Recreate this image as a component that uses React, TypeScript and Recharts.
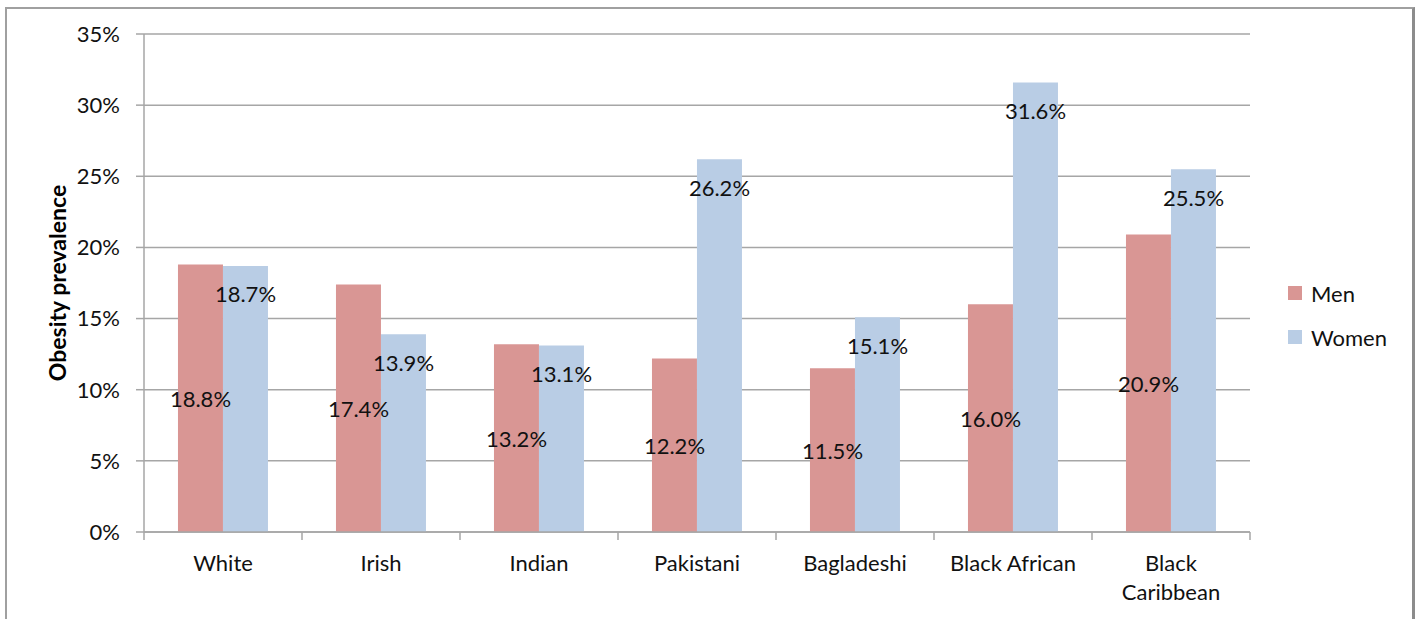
import React from 'react';
import { BarChart, Bar, XAxis, YAxis, CartesianGrid, Legend, LabelList } from 'recharts';

const categories = ['White', 'Irish', 'Indian', 'Pakistani', 'Bagladeshi', 'Black African', 'Black Caribbean'];
const menValues = [18.8, 17.4, 13.2, 12.2, 11.5, 16.0, 20.9];
const womenValues = [18.7, 13.9, 13.1, 26.2, 15.1, 31.6, 25.5];
const yTicks = [0, 5, 10, 15, 20, 25, 30, 35];
const seriesNames = ['Men', 'Women'];

const MEN_COLOR = '#D99694';
const WOMEN_COLOR = '#B9CDE5';
const GRID = '#a6a6a6';
const FONT = 'Lato, "Open Sans", sans-serif';
const FS = 22;

const data = categories.map((name, i) => ({ name, men: menValues[i], women: womenValues[i] }));

const fmt = (v: number) => `${v.toFixed(1)}%`;

// men labels sit in the middle of the bar
const MenLabel = (props: any) => {
  const { x, y, width, height, value } = props;
  return (
    <text x={x + width / 2} y={y + height / 2} textAnchor="middle" dominantBaseline="central"
      fontFamily={FONT} fontSize={FS} fill="#111">
      {fmt(value)}
    </text>
  );
};

// women labels sit just under the top of the bar
const WomenLabel = (props: any) => {
  const { x, y, width, value } = props;
  return (
    <text x={x + width / 2} y={y + 28} textAnchor="middle" dominantBaseline="central"
      fontFamily={FONT} fontSize={FS} fill="#111">
      {fmt(value)}
    </text>
  );
};

const CategoryTick = (props: any) => {
  const { x, y, payload, index } = props;
  const half = payload.offset || 79;
  const label: string = payload.value;
  const lines = label.length > 13 ? label.split(' ') : [label];
  return (
    <g>
      <line x1={x - half} x2={x - half} y1={y} y2={y + 8} stroke={GRID} strokeWidth={1.5} />
      {index === categories.length - 1 && (
        <line x1={x + half} x2={x + half} y1={y} y2={y + 8} stroke={GRID} strokeWidth={1.5} />
      )}
      {lines.map((l, i) => (
        <text key={i} x={x} y={y + 39 + i * 29} textAnchor="middle" fontFamily={FONT} fontSize={FS} fill="#111">
          {l}
        </text>
      ))}
    </g>
  );
};

const LegendContent = () => (
  <div style={{ fontFamily: FONT, fontSize: FS, color: '#111' }}>
    {seriesNames.map((n, i) => (
      <div key={n} style={{ display: 'flex', alignItems: 'center', height: 44 }}>
        <span style={{ display: 'inline-block', width: 14, height: 14, background: i === 0 ? MEN_COLOR : WOMEN_COLOR, marginRight: 9 }} />
        <span>{n}</span>
      </div>
    ))}
  </div>
);

const YLabel = (props: any) => {
  const vb = props.viewBox || { x: 0, y: 34, height: 498 };
  const cx = 57;
  const cy = vb.y + vb.height / 2;
  return (
    <text x={cx} y={cy} transform={`rotate(-90 ${cx} ${cy})`} textAnchor="middle" dominantBaseline="central"
      fontFamily={FONT} fontSize={23} fontWeight="bold" fill="#000">
      Obesity prevalence
    </text>
  );
};

export default function App() {
  return (
    <div style={{ position: 'absolute', left: 0, top: 0, width: 1422, height: 619, background: '#fff', overflow: 'hidden' }}>
      <div style={{ position: 'absolute', left: 5, top: 7, width: 1410, height: 640, border: '2px solid #a0a0a0', borderRightWidth: 3, borderRightColor: '#8c8c8c', boxSizing: 'border-box' }} />
      <BarChart width={1422} height={619} data={data} margin={{ top: 34, right: 42, bottom: 0, left: 0 }}
        barCategoryGap="21.5%" barGap={0}>
        <CartesianGrid vertical={false} stroke={GRID} strokeWidth={1.5} />
        <XAxis dataKey="name" height={87} axisLine={{ stroke: GRID, strokeWidth: 1.5 }} tickLine={false}
          tickSize={0} tickMargin={0} tick={<CategoryTick />} interval={0} />
        <YAxis width={144} domain={[0, 35]} ticks={yTicks} interval={0} tickFormatter={(v: number) => `${v}%`}
          axisLine={{ stroke: GRID, strokeWidth: 1.5 }} tickLine={{ stroke: GRID, strokeWidth: 1.5 }}
          tickSize={8} tickMargin={16}
          tick={{ fontFamily: FONT, fontSize: FS, fill: '#111' }}
          label={<YLabel />} />
        <Legend layout="horizontal" verticalAlign="middle" align="right" content={<LegendContent />}
          wrapperStyle={{ left: 1288, top: 271, width: 130 }} />
        <Bar dataKey="men" name="Men" fill={MEN_COLOR} isAnimationActive={false}>
          <LabelList dataKey="men" content={<MenLabel />} />
        </Bar>
        <Bar dataKey="women" name="Women" fill={WOMEN_COLOR} isAnimationActive={false}>
          <LabelList dataKey="women" content={<WomenLabel />} />
        </Bar>
      </BarChart>
    </div>
  );
}
